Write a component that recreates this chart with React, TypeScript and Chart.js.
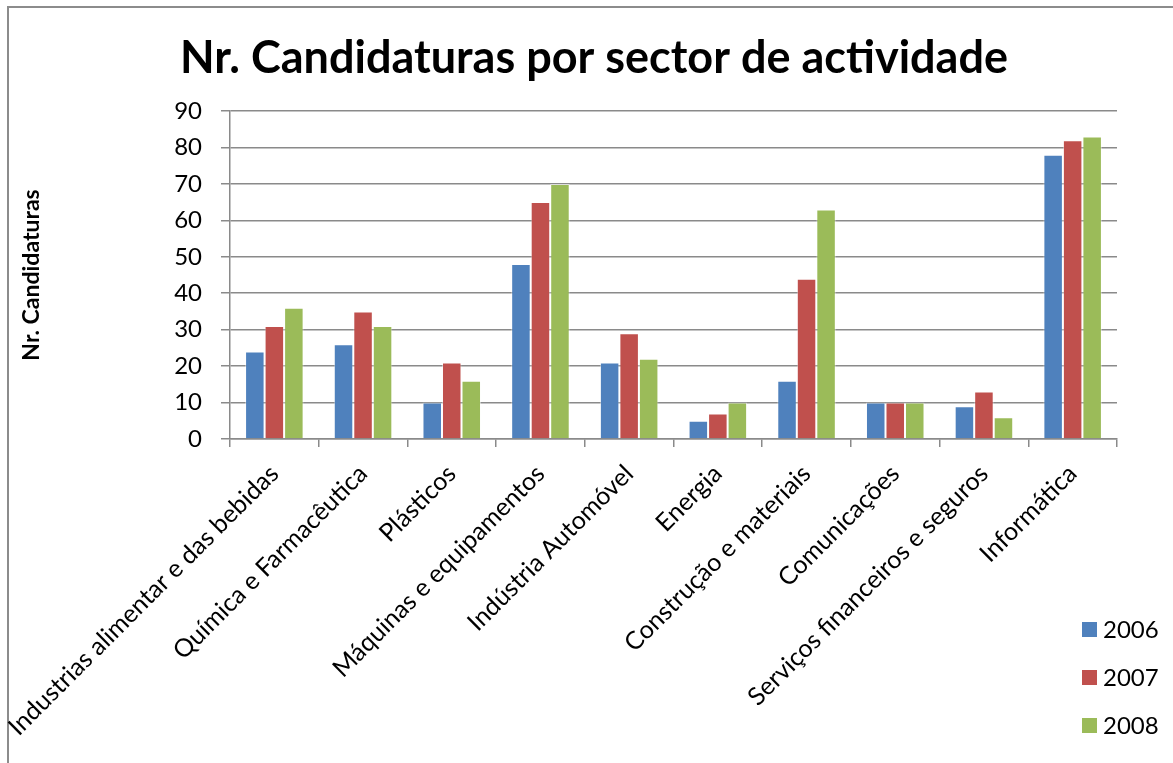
import React, { useEffect, useRef } from "react";
import { Chart, registerables } from "chart.js";

Chart.register(...registerables);

const categories = [
  "Industrias alimentar e das bebidas",
  "Química e Farmacêutica",
  "Plásticos",
  "Máquinas e equipamentos",
  "Indústria Automóvel",
  "Energia",
  "Construção e materiais",
  "Comunicações",
  "Serviços financeiros e seguros",
  "Informática",
];
const seriesNames = ["2006", "2007", "2008"];
const values2006 = [24, 26, 10, 48, 21, 5, 16, 10, 9, 78];
const values2007 = [31, 35, 21, 65, 29, 7, 44, 10, 13, 82];
const values2008 = [36, 31, 16, 70, 22, 10, 63, 10, 6, 83];
const seriesColors = ["#4F81BD", "#C0504D", "#9BBB59"];
const titleText = "Nr. Candidaturas por sector de actividade";
const yTitleText = "Nr. Candidaturas";

const FONT = "Lato";
const W = 1173;
const H = 763;
const AREA_LEFT = 230;
const AREA_TOP = 111;
const AREA_RIGHT = 1117;
const AREA_BOTTOM = 439;
const GRID = "#8a8a8a";

const framePlugin = {
  id: "frameAndTitle",
  beforeDraw(chart: any) {
    const ctx = chart.ctx;
    ctx.save();
    ctx.fillStyle = "#ffffff";
    ctx.fillRect(0, 0, W, H);
    ctx.strokeStyle = "#8c8c8c";
    ctx.lineWidth = 2;
    ctx.beginPath();
    ctx.moveTo(8, H + 5);
    ctx.lineTo(8, 7);
    ctx.lineTo(W + 5, 7);
    ctx.stroke();
    ctx.restore();
  },
  afterDraw(chart: any) {
    const ctx = chart.ctx;
    ctx.save();
    ctx.fillStyle = "#000";
    ctx.font = `bold 45px ${FONT}`;
    ctx.textAlign = "center";
    ctx.textBaseline = "alphabetic";
    ctx.fillText(titleText, 594, 73);

    // legend
    const ds = chart.data.datasets;
    ctx.font = `24px ${FONT}`;
    ctx.textAlign = "left";
    ctx.textBaseline = "middle";
    ds.forEach((d: any, i: number) => {
      const cy = 629 + i * 48;
      ctx.fillStyle = d.backgroundColor;
      ctx.fillRect(1082, cy - 7, 15, 15);
      ctx.fillStyle = "#000";
      ctx.fillText(d.label, 1103, cy + 1);
    });
    ctx.restore();
  },
};

export default function App() {
  const ref = useRef<HTMLCanvasElement>(null);
  useEffect(() => {
    const canvas = ref.current!;
    const chart = new Chart(canvas, {
      type: "bar",
      data: {
        labels: categories,
        datasets: [values2006, values2007, values2008].map((v, i) => ({
          label: seriesNames[i],
          data: v,
          backgroundColor: seriesColors[i],
          borderColor: "rgba(255,255,255,0.45)",
          borderWidth: 1,
          categoryPercentage: 0.66,
          barPercentage: 1,
        })),
      },
      options: {
        responsive: false,
        animation: false,
        layout: {
          padding: { top: AREA_TOP, left: 0, right: W - AREA_RIGHT, bottom: 0 },
        },
        plugins: {
          legend: { display: false },
          title: { display: false },
          tooltip: { enabled: false },
        },
        scales: {
          x: {
            grid: {
              offset: true,
              drawOnChartArea: false,
              drawTicks: true,
              tickLength: 8,
              color: GRID,
              lineWidth: 1.5,
            },
            border: { color: GRID, width: 1.5 },
            ticks: {
              autoSkip: false,
              minRotation: 45,
              maxRotation: 45,
              color: "#000",
              padding: 12,
              font: { family: FONT, size: 25 },
            },
            afterFit(scale: any) {
              scale.height = H - AREA_BOTTOM;
              scale.paddingLeft = 0;
              scale.paddingRight = 0;
            },
          },
          y: {
            min: 0,
            max: 90,
            ticks: {
              stepSize: 10,
              color: "#000",
              padding: 19,
              font: { family: FONT, size: 24 },
            },
            grid: {
              color: GRID,
              lineWidth: 1.5,
              tickLength: 9,
            },
            border: { color: GRID, width: 1.5 },
            title: {
              display: true,
              text: yTitleText,
              color: "#000",
              font: { family: FONT, size: 23, weight: "bold" },
              padding: { top: 18, bottom: 0 },
            },
            afterFit(scale: any) {
              scale.width = AREA_LEFT;
              scale.paddingTop = 0;
              scale.paddingBottom = 0;
            },
          },
        },
      },
      plugins: [framePlugin],
    });
    return () => chart.destroy();
  }, []);
  return (
    <div style={{ position: "absolute", left: 0, top: 0, width: W, height: H }}>
      <canvas ref={ref} width={W} height={H} />
    </div>
  );
}
